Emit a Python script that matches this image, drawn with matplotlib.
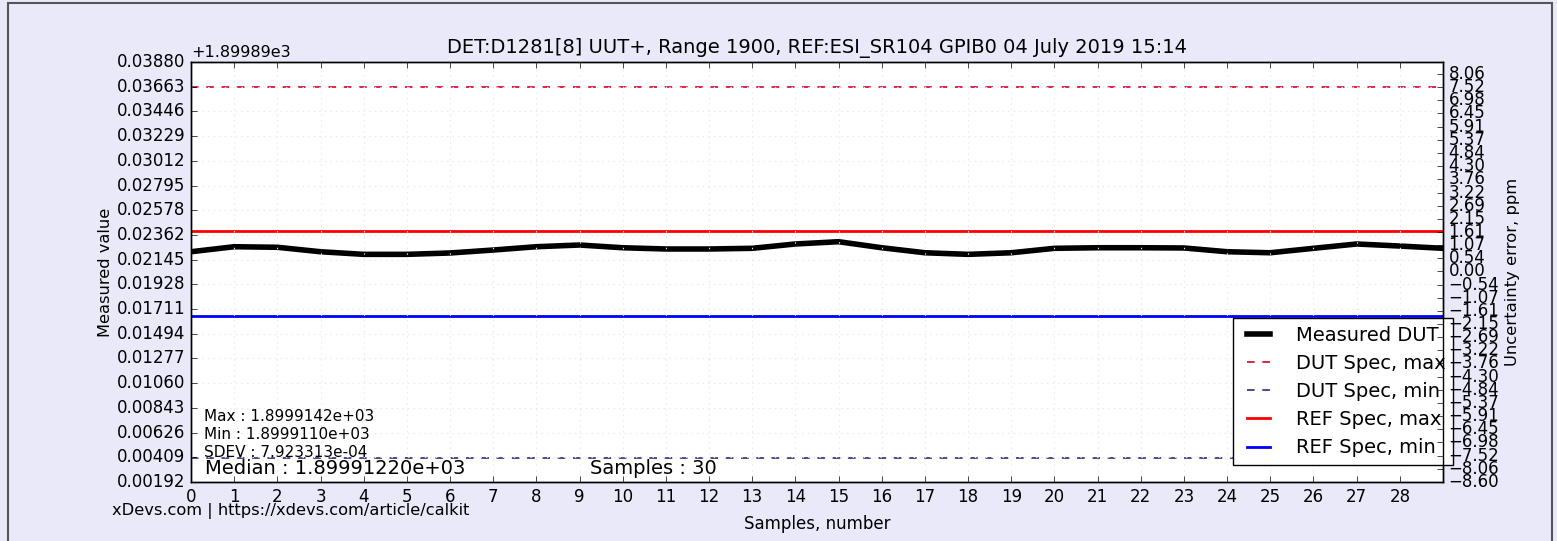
import matplotlib
matplotlib.use('Agg')
import matplotlib.pyplot as plt
from matplotlib.patches import Rectangle

plt.style.use('classic')

# data
base = 1899.89
samples = list(range(30))
measured = [1899.91214, 1899.91258, 1899.91253, 1899.91214, 1899.91191, 1899.91191,
            1899.91203, 1899.91229, 1899.91258, 1899.91273, 1899.91249, 1899.91238,
            1899.91238, 1899.91244, 1899.91282, 1899.91302, 1899.91249, 1899.91205,
            1899.91191, 1899.91205, 1899.91244, 1899.91249, 1899.91249, 1899.91247,
            1899.91214, 1899.91205, 1899.91244, 1899.91282, 1899.91264, 1899.91244]
dut_max = 1899.92663
dut_min = 1899.89405
ref_max = 1899.91400
ref_min = 1899.90650

left_ticks = ['0.00192', '0.00409', '0.00626', '0.00843', '0.01060', '0.01277',
              '0.01494', '0.01711', '0.01928', '0.02145', '0.02362', '0.02578',
              '0.02795', '0.03012', '0.03229', '0.03446', '0.03663', '0.03880']
ppm_ticks = ['-8.60', '-8.06', '-7.52', '-6.98', '-6.45', '-5.91', '-5.37', '-4.84',
             '-4.30', '-3.76', '-3.22', '-2.69', '-2.15', '-1.61', '-1.07', '-0.54',
             '0.00', '0.54', '1.07', '1.61', '2.15', '2.69', '3.22', '3.76',
             '4.30', '4.84', '5.37', '5.91', '6.45', '6.98', '7.52', '8.06']

title = 'DET:D1281[8] UUT+, Range 1900, REF:ESI_SR104 GPIB0 04 July 2019 15:14'

fig = plt.figure(figsize=(15.57, 5.41), dpi=100, facecolor='#e9e9f9')
ax1 = fig.add_axes([191/1557, 1 - 482/541, 1252/1557, 420/541])
ax1.set_facecolor('white')

ax1.plot(samples, measured, color='black', lw=4, label='Measured DUT')
ax1.axhline(dut_max, color='#dc143c', ls='--', dashes=(5.5, 5.5), lw=1.3, label='DUT Spec, max')
ax1.axhline(dut_min, color='#3c3c80', ls='--', dashes=(5.5, 5.5), lw=1.3, label='DUT Spec, min')
ax1.axhline(ref_max, color='red', lw=2, label='REF Spec, max')
ax1.axhline(ref_min, color='blue', lw=2, label='REF Spec, min')

lt = [base + float(t) for t in left_ticks]
ax1.set_ylim(lt[0], lt[-1])
ax1.set_yticks(lt)
ax1.set_yticklabels(left_ticks, fontsize=12)
ax1.set_xlim(0, 29)
ax1.set_xticks(range(29))
ax1.tick_params(axis='x', labelsize=12)
ax1.grid(True, color='#e8e8e8', ls=':', lw=0.8)
ax1.text(0.0, 1.004, '+1.89989e3', transform=ax1.transAxes, fontsize=11.5,
         ha='left', va='bottom')
ax1.set_title(title, fontsize=14, y=1.005)
ax1.set_ylabel('Measured value', fontsize=11.7, labelpad=3)
ax1.set_xlabel('Samples, number', fontsize=12, labelpad=7)

# stats
ax1.text(0.010, 0.157, 'Max : 1.8999142e+03', transform=ax1.transAxes, fontsize=11, va='center')
ax1.text(0.010, 0.114, 'Min : 1.8999110e+03', transform=ax1.transAxes, fontsize=11, va='center')
ax1.text(0.010, 0.071, 'SDEV : 7.923313e-04', transform=ax1.transAxes, fontsize=11, va='center')
ax1.text(0.011, 0.031, 'Median : 1.89991220e+03', transform=ax1.transAxes, fontsize=14, va='center')
ax1.text(0.319, 0.031, 'Samples : 30', transform=ax1.transAxes, fontsize=14, va='center')

leg = ax1.legend(loc='lower right', bbox_to_anchor=(1.008, 0.04), borderaxespad=0,
                 fontsize=14, handlelength=1.8, handletextpad=1.0, labelspacing=0.47,
                 fancybox=False)

ax2 = ax1.twinx()
pt = [float(t) for t in ppm_ticks]
ax2.set_ylim(-8.60, 8.55)
ax2.set_yticks(pt)
ax2.set_yticklabels([t.replace('-', '\u2212') for t in ppm_ticks], fontsize=12)
ax2.set_ylabel('Uncertainty error, ppm', fontsize=11.8, labelpad=4)

fig.text(112/1557, 1 - 511/541, 'xDevs.com | https://xdevs.com/article/calkit',
         fontsize=11.7, va='center')

fig.patches.append(Rectangle((8/1557, -0.01), 1544/1557, 1.0045,
                             transform=fig.transFigure, fill=False,
                             edgecolor='#555555', lw=1.5))

fig.savefig('out.png', dpi=100, facecolor=fig.get_facecolor())
